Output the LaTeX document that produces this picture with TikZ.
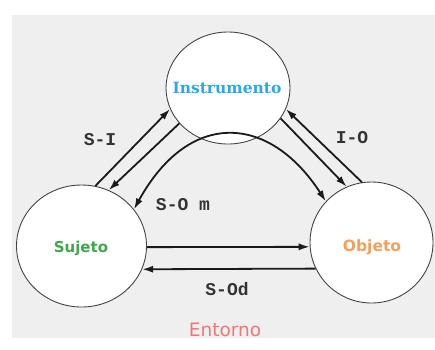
\documentclass[tikz,border=0pt]{standalone}
\usepackage{fontspec}
\setmainfont{DejaVu Sans}
\newfontfamily\labfont{Liberation Mono}
\newfontfamily\instfont{DejaVu Serif}
\usetikzlibrary{arrows.meta,shapes.geometric}
\definecolor{bgcol}{HTML}{EFEFEF}
\definecolor{circcol}{HTML}{444444}
\definecolor{arrcol}{HTML}{1A1A1A}
\definecolor{labcol}{HTML}{333333}
\definecolor{instcol}{HTML}{2AA8E8}
\definecolor{sujcol}{HTML}{3FA84E}
\definecolor{objcol}{HTML}{F2A05C}
\definecolor{entcol}{HTML}{EE7777}
\tikzset{
  entity/.style={ellipse, draw=circcol, fill=white, line width=0.9pt, inner sep=0pt},
  conn/.style={line width=1.8pt, draw=arrcol},
  lab/.style={font=\labfont\bfseries\fontsize{18}{18}\selectfont, text=labcol, inner sep=0pt},
  >={Latex[length=11pt,width=7pt]}
}
\begin{document}
\begin{tikzpicture}[x=1pt,y=-1pt]
\useasboundingbox (0,0) rectangle (435,349);
\fill[bgcol] (12,15) rectangle (435,338);

\node[entity, minimum width=124pt, minimum height=112pt] (I) at (228,88) {};
\node[entity, minimum width=130pt, minimum height=122pt] (S) at (81.5,246) {};
\node[entity, minimum width=123pt, minimum height=121pt] (O) at (371.5,242.5) {};

\node[font=\instfont\bfseries\fontsize{15.5}{15.5}\selectfont, text=instcol] (tI) at (227,88) {Instrumento};
\node[font=\bfseries\fontsize{15}{15}\selectfont, text=sujcol] (tS) at (81,248) {Sujeto};
\node[font=\bfseries\fontsize{15.5}{15.5}\selectfont, text=objcol] (tO) at (372,247) {Objeto};
\node[font=\fontsize{18.5}{18.5}\selectfont, text=entcol] (tE) at (225,330) {Entorno};

% S - I
\draw[conn,->] (S.77.5) -- (I.200.3);
\draw[conn,->] (I.216.3) -- (S.64.3);
% I - O
\draw[conn,->] (O.99.4) -- (I.-20.1);
\draw[conn,->] (I.-30) -- (O.114.1);
% S - O mediated
\draw[conn,<->] (O.138.5) .. controls (270,115) and (190,108) .. (S.35);
% S - O direct
\draw[conn,->] (S.-1.1) -- (O.184.3);
\draw[conn,->] (O.205.4) -- (S.-21.2);

\node[lab] (lSI) at (100,140) {S-I};
\node[lab] (lIO) at (352,138) {I-O};
\node[lab] (lSOm) at (183,205) {S-O m};
\node[lab] (lSOd) at (227,289) {S-Od};
\end{tikzpicture}
\end{document}
